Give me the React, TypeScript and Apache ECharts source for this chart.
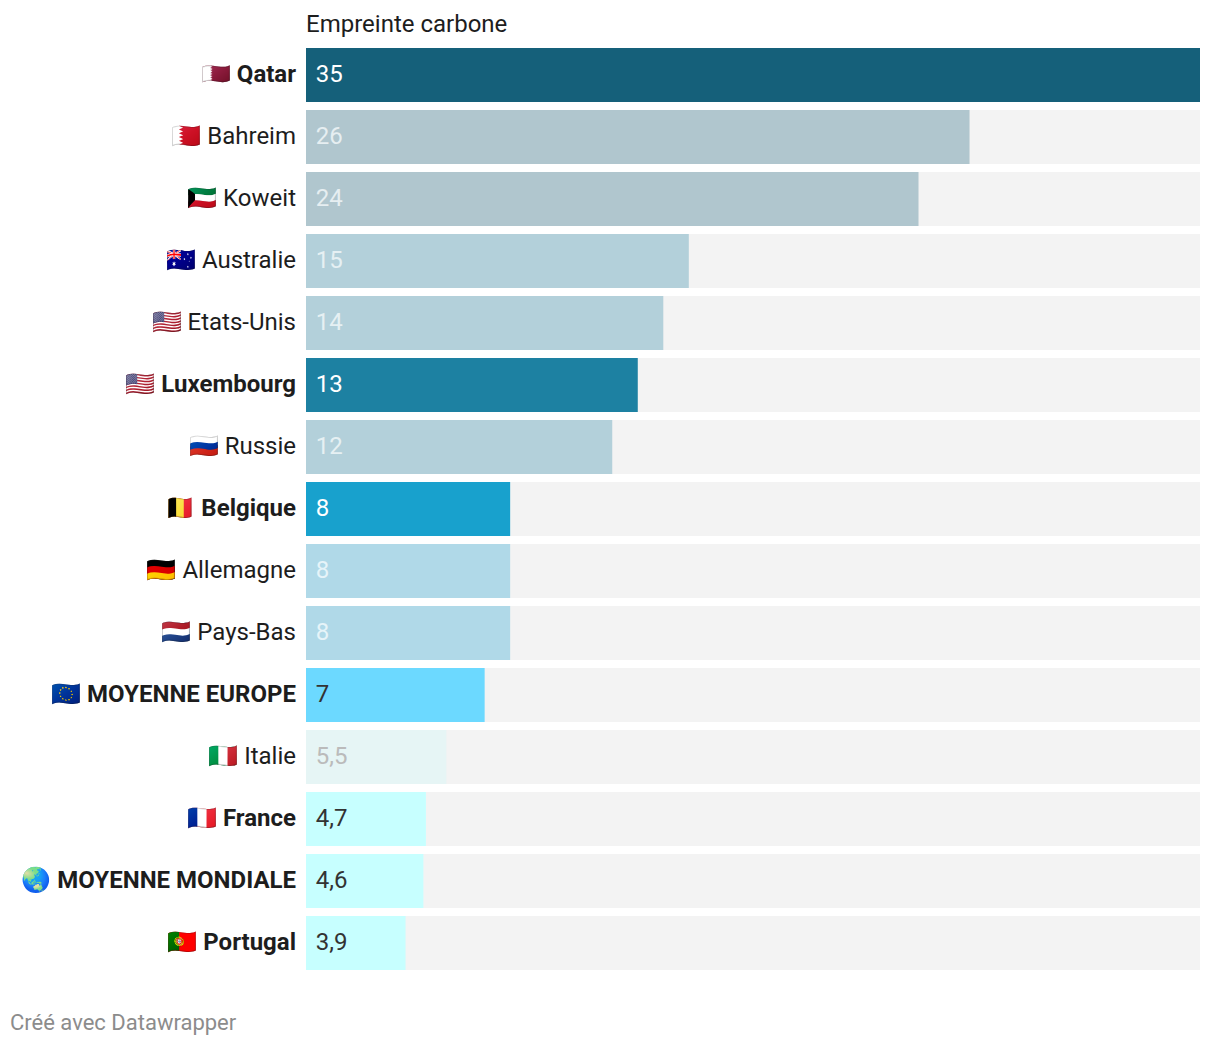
import React, { useEffect, useRef } from "react";
import * as echarts from "echarts";

const countries = ["Qatar","Bahreim","Koweit","Australie","Etats-Unis","Luxembourg","Russie","Belgique","Allemagne","Pays-Bas","MOYENNE EUROPE","Italie","France","MOYENNE MONDIALE","Portugal"];
const flags = ["🇶🇦","🇧🇭","🇰🇼","🇦🇺","🇺🇸","🇺🇸","🇷🇺","🇧🇪","🇩🇪","🇳🇱","🇪🇺","🇮🇹","🇫🇷","🌏","🇵🇹"];
const values = [35.03,26,24,15,14,13,12,8,8,8,7,5.5,4.7,4.6,3.9];
const valueLabels = ["35","26","24","15","14","13","12","8","8","8","7","5,5","4,7","4,6","3,9"];
const barColors = ["#15607a","#b0c6ce","#b0c6ce","#b3d0da","#b3d0da","#1d81a2","#b3d0da","#18a1cd","#b0d9e8","#b0d9e8","#6cd9ff","#e6f5f5","#c7ffff","#c7ffff","#c7ffff"];
const labelColors = ["#ffffff","#e6eef1","#e6eef1","#e6f0f3","#e6f0f3","#ffffff","#e6f0f3","#ffffff","#e6f4f9","#e6f4f9","#333333","#bbbbbb","#333333","#333333","#333333"];
const boldRows = ["Qatar","Luxembourg","Belgique","MOYENNE EUROPE","France","MOYENNE MONDIALE","Portugal"];
const FONT = "Roboto";

export default function App() {
  const ref = useRef<HTMLDivElement>(null);
  useEffect(() => {
    const chart = echarts.init(ref.current!, undefined, { renderer: "svg" });
    chart.setOption({
      animation: false,
      backgroundColor: "#ffffff",
      textStyle: { fontFamily: FONT },
      title: [
        { text: "Empreinte carbone", left: 306, top: 12, padding: 0, textStyle: { fontFamily: FONT, fontSize: 24, fontWeight: "normal", color: "#1d1d1d" } },
        { text: "Créé avec Datawrapper", left: 10, top: 1011, padding: 0, textStyle: { fontFamily: FONT, fontSize: 22, fontWeight: "normal", color: "#8c8c8c" } },
      ],
      grid: { left: 306, top: 44, width: 894, height: 930 },
      xAxis: { type: "value", min: 0, max: 35.03, show: false },
      yAxis: {
        type: "category", inverse: true, data: countries,
        axisLine: { show: false }, axisTick: { show: false },
        axisLabel: {
          margin: 10, fontFamily: FONT, fontSize: 24, color: "#1d1d1d", padding: [0, 0, 2, 0],
          formatter: (v: string) => {
            const i = countries.indexOf(v);
            return boldRows.includes(v) ? `${flags[i]} {b|${v}}` : `${flags[i]} ${v}`;
          },
          rich: { b: { fontFamily: FONT, fontSize: 24, fontWeight: "bold", color: "#1d1d1d" } },
        },
      },
      series: [{
        type: "bar", barWidth: 54, showBackground: true,
        backgroundStyle: { color: "#f3f3f3" },
        data: values.map((v, i) => ({
          value: v,
          itemStyle: { color: barColors[i] },
          label: {
            show: true, position: "insideLeft", distance: 9.7, offset: [0, -1],
            fontFamily: FONT, fontSize: 24, color: labelColors[i],
            formatter: valueLabels[i],
          },
        })),
      }],
    });
    return () => chart.dispose();
  }, []);
  return <div ref={ref} style={{ position: "absolute", left: 0, top: 0, width: 1220, height: 1046 }} />;
}
